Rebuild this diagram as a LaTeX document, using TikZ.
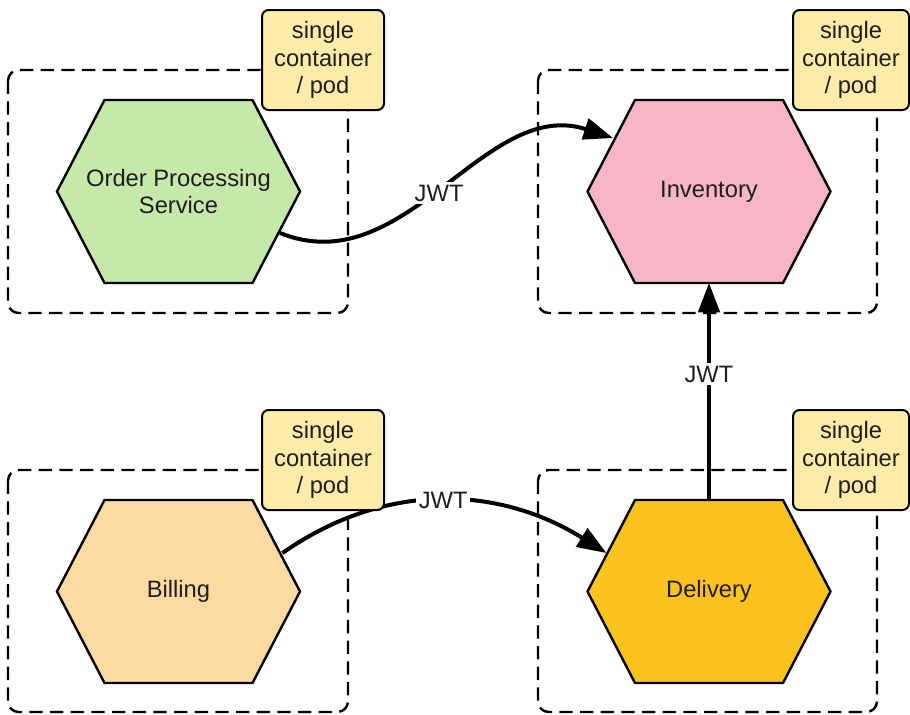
\documentclass[tikz,border=0pt]{standalone}
\usepackage{fontspec}
\setmainfont{Liberation Sans}
\usetikzlibrary{arrows.meta,calc}
\pgfdeclarelayer{bg}
\pgfsetlayers{bg,main}
\definecolor{txt}{HTML}{1E1E1E}
\definecolor{opsgreen}{RGB}{198,232,170}
\definecolor{invpink}{RGB}{247,182,200}
\definecolor{bilpeach}{RGB}{252,218,162}
\definecolor{delamber}{RGB}{251,195,29}
\definecolor{podyellow}{RGB}{255,236,168}
\tikzset{
  hexline/.style={draw=black, line width=1.8pt, line join=miter},
  hextext/.style={text=txt, font=\fontsize{17.8}{20.8}\selectfont, align=center, inner sep=0pt},
  podbox/.style={draw=black, fill=podyellow, line width=1.5pt, rounded corners=5pt,
    minimum height=75pt, text=txt, font=\fontsize{17.8}{20.6}\selectfont, align=center, inner sep=0pt},
  dashbox/.style={draw=black, line width=1.8pt, dash pattern=on 10pt off 5.5pt, rounded corners=8pt},
  conn/.style={draw=black, line width=3pt, -{Triangle[length=22pt,width=16pt]}},
  jwt/.style={fill=white, text=txt, font=\fontsize{17.8}{20.6}\selectfont, inner sep=2pt}
}
\newcommand{\hexa}[4]{%
  \node[hextext] (#1) at (#2) {#4};
  \begin{pgfonlayer}{bg}
  \draw[hexline, fill=#3, shift={(#1.center)}]
    (-121.5,0) -- (-74,-91.5) -- (74,-91.5) -- (121.5,0) -- (74,91.5) -- (-74,91.5) -- cycle;
  \end{pgfonlayer}
}
\begin{document}
\begin{tikzpicture}[x=0.75pt, y=-0.75pt]
\useasboundingbox (0,0) rectangle (910,714);
\begin{pgfonlayer}{bg}
\fill[white] (0,0) rectangle (910,714);
\draw[dashbox] (8,70) rectangle (348,313);
\draw[dashbox] (538,70) rectangle (877,313);
\draw[dashbox] (8,470) rectangle (348,712);
\draw[dashbox] (538,470) rectangle (877,712);
\end{pgfonlayer}

\hexa{ops}{178.5,191.5}{opsgreen}{Order Processing\\Service}
\hexa{inv}{709,191.5}{invpink}{Inventory}
\hexa{bil}{178.5,591.5}{bilpeach}{Billing}
\hexa{del}{709,591.5}{delamber}{Delivery}

\draw[conn] ($(ops.center)+(101.5,41.5)$) to[out=-22, in=162]
  node[jwt, pos=0.48] (j1) {JWT} ($(inv.center)+(-96,-53.5)$);
\draw[conn] ($(del.center)+(0,-91.5)$) --
  node[jwt, pos=0.58] (j2) {JWT} ($(inv.center)+(0,91.5)$);
\draw[conn] ($(bil.center)+(104,-38.5)$) to[out=35, in=148]
  node[jwt, pos=0.5] (j3) {JWT} ($(del.center)+(-102.5,-38.5)$);

\node[podbox, minimum width=91.5pt] (p1) at (323,60) {single\\container\\/ pod};
\node[podbox, minimum width=87pt] (p2) at (851,60) {single\\container\\/ pod};
\node[podbox, minimum width=91.5pt] (p3) at (323,460) {single\\container\\/ pod};
\node[podbox, minimum width=87pt] (p4) at (851,460) {single\\container\\/ pod};
\end{tikzpicture}
\end{document}
